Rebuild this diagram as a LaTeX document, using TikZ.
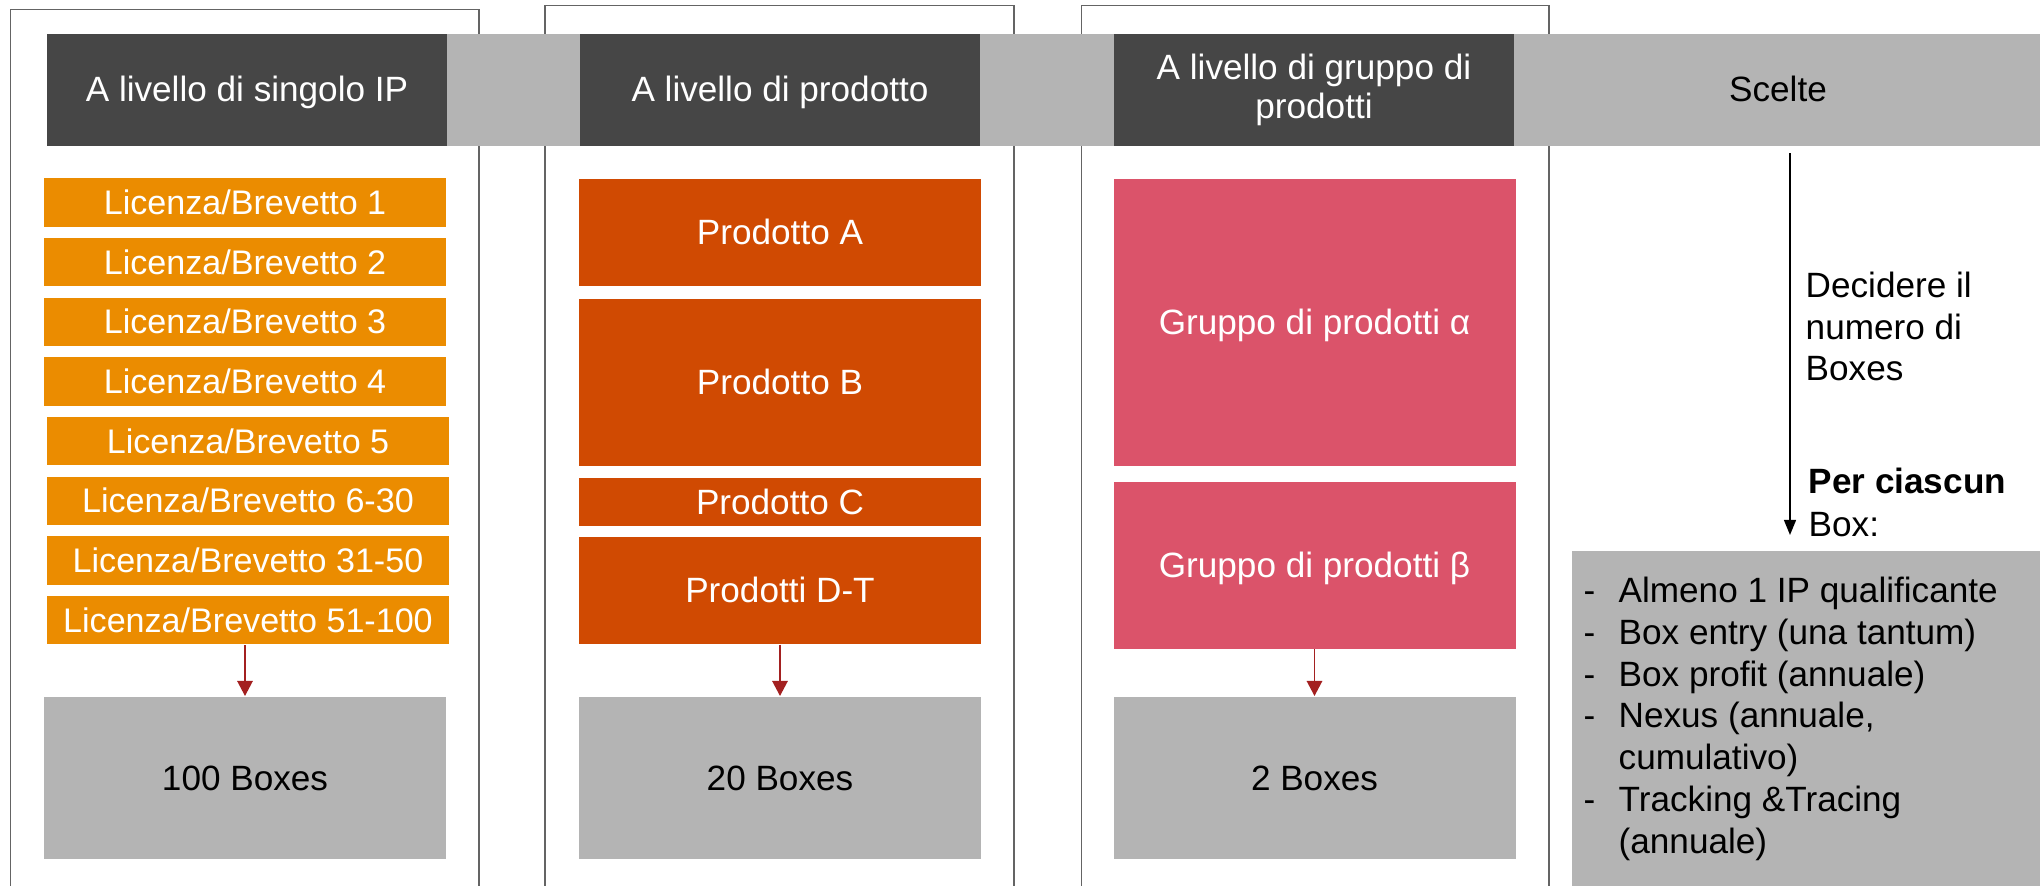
\documentclass[tikz,border=0pt]{standalone}
\usepackage{fontspec}
\setmainfont{Liberation Sans}
\usetikzlibrary{arrows.meta}
\definecolor{hdrgray}{RGB}{70, 70, 70}
\definecolor{bandgray}{RGB}{180, 180, 180}
\definecolor{licorange}{RGB}{235, 140, 0}
\definecolor{prodorange}{RGB}{208, 74, 2}
\definecolor{grppink}{RGB}{219, 83, 106}
\definecolor{arrowred}{RGB}{163, 32, 32}
\definecolor{framegray}{RGB}{100, 100, 100}

\begin{document}
\begin{tikzpicture}[
        font=\fontsize{10pt}{11.9pt}\selectfont,
        cell/.style={anchor=north, inner sep=0pt, minimum width=4.02cm, text=white, text height=9pt, text depth=2.1pt, font=\fontsize{10pt}{11pt}\selectfont},
        header/.style={inner sep=0pt, minimum width=4cm, minimum height=1.117cm, fill=hdrgray, text=white, align=center, font=\fontsize{10pt}{11pt}\selectfont},
        lic/.style={cell, fill=licorange, minimum height=0.483cm, font=\fontsize{9.7pt}{11pt}\selectfont},
        prod/.style={cell, fill=prodorange},
        grp/.style={cell, fill=grppink},
        total/.style={cell, fill=bandgray, text=black, minimum height=1.627cm},
        frameline/.style={draw=framegray, line width=0.4pt},
        redarrow/.style={draw=arrowred, line width=0.5pt, -{Triangle[width=4.4pt, length=4.3pt]}}
    ]
        \useasboundingbox (0,0) rectangle (20.40,-8.86);

        % Column frames
        \draw[frameline] (0.107,-8.86) -- (0.107,-0.093) -- (4.79,-0.093) -- (4.79,-8.86);
        \draw[frameline] (5.45,-8.86) -- (5.45,-0.057) -- (10.14,-0.057) -- (10.14,-8.86);
        \draw[frameline] (10.815,-8.86) -- (10.815,-0.057) -- (15.49,-0.057) -- (15.49,-8.86);

        % Header band
        \fill[bandgray] (4.46,-0.34) rectangle (20.40,-1.457);
        \node[header, text height=9pt, text depth=2.1pt] (hdr1) at (2.47,-0.8985) {A livello di singolo IP};
        \node[header, text height=9pt, text depth=2.1pt] (hdr2) at (7.80,-0.8985) {A livello di prodotto};
        \node[header] (hdr3) at (13.14,-0.8985) {A livello di gruppo di\\prodotti};
        \node[inner sep=0pt, text height=9pt, text depth=2.1pt] (hdr4) at (17.78,-0.8985) {Scelte};

        % Single IP
        \foreach \i/\lab in {1/1, 2/2, 3/3, 4/4, 5/5, 6/6-30, 7/31-50, 8/51-100} {
            \pgfmathsetmacro{\dx}{\i > 4 ? 0.03 : 0}
            \pgfmathsetmacro{\y}{-1.775 - 0.597*(\i-1)}
            \node[lic] (lic\i) at ({2.45+\dx}, \y) {Licenza/Brevetto \lab};
        }
        \node[total] (box1) at (2.45,-6.96) {100 Boxes};
        \draw[redarrow] (box1.north |- lic8.south) -- (box1.north);

        % Products
        \node[prod, minimum height=1.07cm] (prodA) at (7.80,-1.78) {Prodotto A};
        \node[prod, minimum height=1.677cm] (prodB) at (7.80,-2.98) {Prodotto B};
        \node[prod, minimum height=0.487cm] (prodC) at (7.80,-4.77) {Prodotto C};
        \node[prod, minimum height=1.073cm] (prodDT) at (7.80,-5.36) {Prodotti D-T};
        \node[total] (box2) at (7.80,-6.96) {20 Boxes};
        \draw[redarrow] (prodDT.south) -- (box2.north);

        % Product groups
        \node[grp, minimum height=2.875cm] (grpA) at (13.145,-1.78) {Gruppo di prodotti α};
        \node[grp, minimum height=1.665cm] (grpB) at (13.145,-4.815) {Gruppo di prodotti β};
        \node[total] (box3) at (13.145,-6.96) {2 Boxes};
        \draw[redarrow] (grpB.south) -- (box3.north);

        % Choices
        \coordinate (choiceTop) at (17.90,-1.53);
        \coordinate (choiceEnd) at (17.90,-5.35);
        \draw[line width=0.5pt, -{Triangle[width=3.4pt, length=4.3pt]}] (choiceTop) -- (choiceEnd);
        \node[anchor=base west, inner sep=0pt] (decide) at (18.05,-2.973)
            {\begin{tabular}[t]{@{}l@{}}Decidere il\\numero di\\Boxes\end{tabular}};
        \node[anchor=base west, inner sep=0pt] (perbox) at (18.08,-4.93)
            {\begin{tabular}[t]{@{}l@{}}\textbf{Per ciascun}\\[0.5pt]Box:\end{tabular}};
        \node[fill=bandgray, anchor=north west, inner sep=0pt, minimum width=4.69cm, minimum height=3.355cm] (checkbg) at (15.71,-5.505) {};
        \node[anchor=base west, inner sep=0pt] (checklist) at (15.83,-6.025)
            {\begin{tabular}[t]{@{}p{0.35cm}@{}l@{}}
                - & Almeno 1 IP qualificante\\
                - & Box entry (una tantum)\\
                - & Box profit (annuale)\\
                - & Nexus (annuale,\\
                  & cumulativo)\\
                - & Tracking \&Tracing\\
                  & (annuale)
            \end{tabular}};
    \end{tikzpicture}
\end{document}
